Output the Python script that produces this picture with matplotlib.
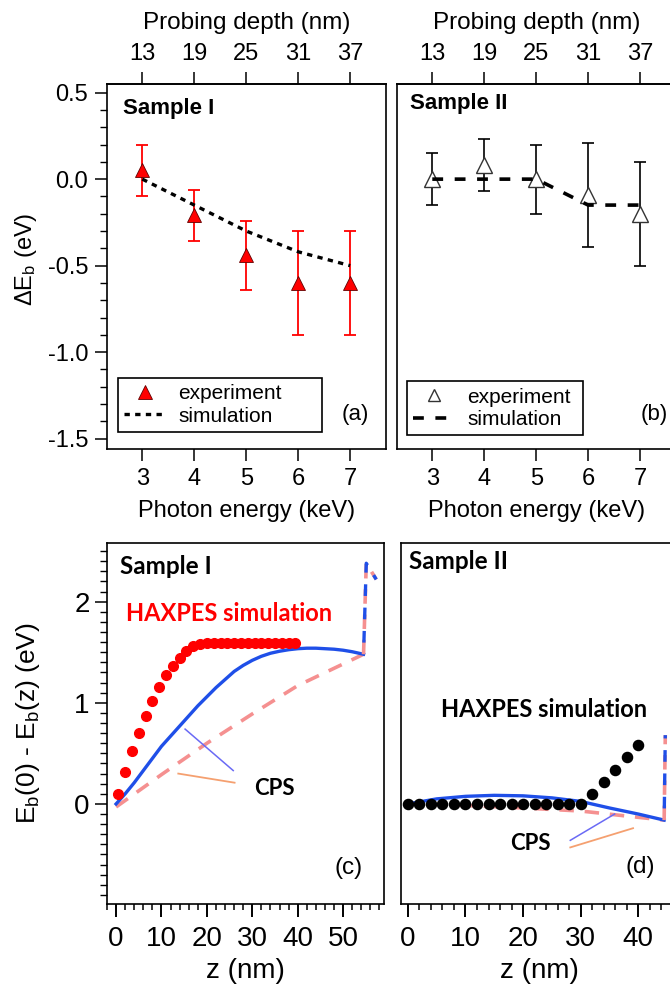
import matplotlib
matplotlib.use("Agg")
import matplotlib.pyplot as plt
from matplotlib.ticker import MultipleLocator, NullLocator

plt.rcParams['font.family'] = ['Liberation Sans', 'DejaVu Sans']
plt.rcParams['mathtext.fontset'] = 'custom'
plt.rcParams['mathtext.rm'] = 'Liberation Sans'
plt.rcParams['mathtext.it'] = 'Liberation Sans'
plt.rcParams['axes.linewidth'] = 1.2

# =====================================
# Data
# =====================================

energy = [3, 4, 5, 6, 7]
depth_ticks = [13, 19, 25, 31, 37]

s1_exp = [0.05, -0.21, -0.44, -0.6, -0.6]
s1_err = [0.15, 0.15, 0.2, 0.3, 0.3]
s1_sim = [0.0, -0.15, -0.3, -0.42, -0.5]

s2_exp = [0.0, 0.08, 0.0, -0.09, -0.2]
s2_err = [0.15, 0.15, 0.2, 0.3, 0.3]
s2_sim = [0.0, 0.0, 0.0, -0.15, -0.15]

# sample I, depth profiles
hax1_z = [0.5, 2.0, 3.5, 5.0, 6.5, 8.0, 9.5, 11.0, 12.5, 14.0, 15.5, 17.0, 18.5,
          20.0, 21.5, 23.0, 24.5, 26.0, 27.5, 29.0, 30.5, 32.0, 33.5, 35.0,
          36.5, 38.0, 39.5]
hax1_v = [0.10, 0.32, 0.52, 0.70, 0.87, 1.02, 1.16, 1.27, 1.36, 1.44, 1.51, 1.56,
          1.58, 1.59, 1.59, 1.59, 1.59, 1.59, 1.59, 1.59, 1.59, 1.59, 1.59, 1.59,
          1.59, 1.59, 1.59]

cps1_z = [0, 2, 4, 6, 8, 10, 12, 14, 16, 18, 20, 22, 24, 26, 28, 30, 32, 34,
          36, 38, 40, 42, 44, 46, 48, 50, 52, 54.5]
cps1_v = [0.0, 0.10, 0.21, 0.33, 0.45, 0.57, 0.67, 0.77, 0.87, 0.97, 1.06, 1.15,
          1.23, 1.31, 1.37, 1.42, 1.46, 1.49, 1.51, 1.525, 1.535, 1.54, 1.54,
          1.535, 1.53, 1.52, 1.505, 1.48]
lin1_z = [0, 10, 20, 30, 40, 54.5]
lin1_v = [-0.03, 0.29, 0.60, 0.89, 1.17, 1.48]
spike1_z = [54.5, 55.1, 57.3]
spike1_v = [1.48, 2.38, 2.22]

# sample II, depth profiles
hax2_z = [0, 2, 4, 6, 8, 10, 12, 14, 16, 18, 20, 22, 24, 26, 28, 30,
          32, 34, 36, 38, 40]
hax2_v = [0, 0, 0, 0, 0, 0, 0, 0, 0, 0, 0, 0, 0, 0, 0, 0,
          0.10, 0.22, 0.34, 0.46, 0.58]

cps2_z = [0, 5, 10, 15, 20, 25, 30, 35, 40, 44.5]
cps2_v = [0.0, 0.05, 0.075, 0.085, 0.08, 0.06, 0.025, -0.04, -0.10, -0.16]
lin2_z = [0, 10, 20, 30, 38, 44.5]
lin2_v = [0.0, -0.015, -0.04, -0.07, -0.12, -0.16]
spike2_z = [44.5, 44.7]
spike2_v = [-0.16, 0.68]

blue = '#1f4fe8'
pink = '#f59090'

fig = plt.figure(figsize=(6.7, 9.94), dpi=100)

ax_a = fig.add_axes([0.1597, 0.5483, 0.4164, 0.3672])
ax_b = fig.add_axes([0.5925, 0.5483, 0.4164, 0.3672])
ax_c = fig.add_axes([0.1597, 0.0905, 0.4134, 0.3632])
ax_d = fig.add_axes([0.5985, 0.0905, 0.4134, 0.3632])

to_depth = (lambda e: 13 + 6 * (e - 3), lambda d: 3 + (d - 13) / 6)

# =====================================
# Top panels
# =====================================

for ax in (ax_a, ax_b):
    ax.set_xlim(2.32, 7.69)
    ax.set_ylim(-1.56, 0.55)
    ax.set_xticks(energy)
    ax.tick_params(axis='both', direction='out', labelsize=17, width=1.1)
    ax.tick_params(axis='x', length=8.5, pad=5)
    ax.set_xlabel("Photon energy (keV)", fontsize=17)
    ax.xaxis.set_label_coords(0.5, -0.14)
    sec = ax.secondary_xaxis('top', functions=to_depth)
    sec.set_xticks(depth_ticks)
    sec.tick_params(direction='out', length=8.5, width=1.1, labelsize=17, pad=5)
    sec.set_xlabel("Probing depth (nm)", fontsize=17.5, labelpad=10)

ax_a.yaxis.set_major_locator(MultipleLocator(0.5))
ax_a.yaxis.set_minor_locator(MultipleLocator(0.1))
ax_a.tick_params(axis='y', which='major', length=8.5, pad=5)
ax_a.tick_params(axis='y', which='minor', length=5, width=1.0)
ax_a.set_yticks([0.5, 0.0, -0.5, -1.0, -1.5])
ax_a.set_yticklabels(["0.5", "0.0", "-0.5", "-1.0", "-1.5"])
ax_a.set_ylabel(r"$\Delta$E$_\mathregular{b}$ (eV)", fontsize=17)
ax_a.yaxis.set_label_coords(-0.245, 0.52)

ax_b.yaxis.set_major_locator(NullLocator())
ax_b.yaxis.set_minor_locator(NullLocator())

ax_a.errorbar(energy, s1_exp, yerr=s1_err, fmt='none', ecolor='red',
              elinewidth=1.3, capsize=4, capthick=1.3)
ax_a.plot(energy, s1_exp, '^', color='red', mec='#600000', mew=0.6, ms=10,
          label='experiment')
ax_a.plot(energy, s1_sim, color='black', lw=2.4, ls=(0, (1.6, 1.6)),
          label='simulation')

ax_b.errorbar(energy, s2_exp, yerr=s2_err, fmt='none', ecolor='black',
              elinewidth=1.2, capsize=4, capthick=1.2)
ax_b.plot(energy, s2_exp, '^', color='white', mec='#333333', mew=1.0, ms=11,
          label='experiment')
ax_b.plot(energy, s2_sim, color='black', lw=2.6, ls=(0, (3, 3.2)),
          label='simulation')

ax_a.text(2.62, 0.41, "Sample I", fontsize=16, fontweight='bold', va='center')
ax_b.text(2.58, 0.44, "Sample II", fontsize=16, fontweight='bold', va='center')
ax_a.text(7.1, -1.36, "(a)", fontsize=16, ha='center', va='center')
ax_b.text(7.27, -1.36, "(b)", fontsize=16, ha='center', va='center')

for ax, anchor, ms in ((ax_a, (0.039, 0.047, 0.731, 0), 11),
                       (ax_b, (0.036, 0.038, 0.631, 0), 9)):
    leg = ax.legend(loc='lower left', bbox_to_anchor=anchor, mode='expand',
                    borderaxespad=0, fontsize=15, frameon=True, fancybox=False,
                    framealpha=1, edgecolor='black', handlelength=2.0,
                    handletextpad=0.6, borderpad=0.3, labelspacing=0.15)
    leg.get_frame().set_linewidth(1.2)
    if ax is ax_b:
        leg.legend_handles[0].set_markersize(ms)

# =====================================
# Bottom panels
# =====================================

for ax in (ax_c, ax_d):
    ax.set_xlim(-2.0, 59.0)
    ax.set_ylim(-0.99, 2.58)
    ax.xaxis.set_major_locator(MultipleLocator(10))
    ax.xaxis.set_minor_locator(MultipleLocator(2))
    ax.tick_params(axis='x', which='major', direction='out', length=9.5,
                   width=1.4, labelsize=20, pad=6)
    ax.tick_params(axis='x', which='minor', direction='out', length=4.5,
                   width=1.1)
    ax.set_xlabel("z (nm)", fontsize=20)
    ax.xaxis.set_label_coords(0.5, -0.15)

ax_d.set_xlim(-1.2, 46.9)

ax_c.yaxis.set_major_locator(MultipleLocator(1))
ax_c.yaxis.set_minor_locator(MultipleLocator(0.1))
ax_c.tick_params(axis='y', which='major', direction='out', length=8.5,
                 width=1.1, labelsize=20, pad=4)
ax_c.tick_params(axis='y', which='minor', direction='out', length=5, width=1.0)
ax_c.set_ylabel(r"E$_\mathregular{b}$(0) - E$_\mathregular{b}$(z) (eV)", fontsize=19)
ax_c.yaxis.set_label_coords(-0.235, 0.5)

ax_d.yaxis.set_major_locator(NullLocator())
ax_d.yaxis.set_minor_locator(NullLocator())

# sample I
ax_c.plot(lin1_z, lin1_v, color=pink, lw=2.6, ls=(0, (4, 3)))
ax_c.plot(cps1_z, cps1_v, color=blue, lw=2.4)
ax_c.plot(spike1_z, spike1_v, color=pink, lw=2.6, ls=(0, (4, 3)))
ax_c.plot(spike1_z, spike1_v, color=blue, lw=2.4, ls=(3.5, (3.5, 3.5)))
ax_c.plot(hax1_z, hax1_v, 'o', color='red', ms=7)

# sample II
ax_d.plot(lin2_z, lin2_v, color=pink, lw=2.6, ls=(0, (4, 3)))
ax_d.plot(cps2_z, cps2_v, color=blue, lw=2.4)
ax_d.plot(spike2_z, spike2_v, color=pink, lw=2.6, ls=(0, (4, 3)))
ax_d.plot(spike2_z, spike2_v, color=blue, lw=2.4, ls=(3.5, (3.5, 3.5)))
ax_d.plot(hax2_z, hax2_v, 'o', color='black', ms=7.3)

# CPS pointers
ax_c.plot([15.2, 25.8], [0.74, 0.33], color='#6a6af5', lw=1.1)
ax_c.plot([13.7, 26.1], [0.30, 0.21], color='#f5a070', lw=1.3)
ax_d.plot([28.2, 35.9], [-0.36, -0.10], color='#6a6af5', lw=1.1)
ax_d.plot([28.2, 39.1], [-0.43, -0.24], color='#f5a070', lw=1.3)

note = dict(family=['Lato', 'DejaVu Sans'], fontweight='bold')
ax_c.text(0.9, 2.35, "Sample I", fontsize=17.5, va='center', **note)
ax_d.text(0.2, 2.40, "Sample II", fontsize=17.5, va='center', **note)
ax_c.text(24.8, 1.88, "HAXPES simulation", fontsize=17, color='red',
          ha='center', va='center', **note)
ax_d.text(23.6, 0.93, "HAXPES simulation", fontsize=17, color='black',
          ha='center', va='center', **note)
ax_c.text(34.9, 0.155, "CPS", fontsize=16, ha='center', va='center', **note)
ax_d.text(21.3, -0.39, "CPS", fontsize=16, ha='center', va='center', **note)
ax_c.text(51.2, -0.63, "(c)", fontsize=17.5, ha='center', va='center')
ax_d.text(40.3, -0.62, "(d)", fontsize=17.5, ha='center', va='center')

fig.savefig("out.png", dpi=100)
